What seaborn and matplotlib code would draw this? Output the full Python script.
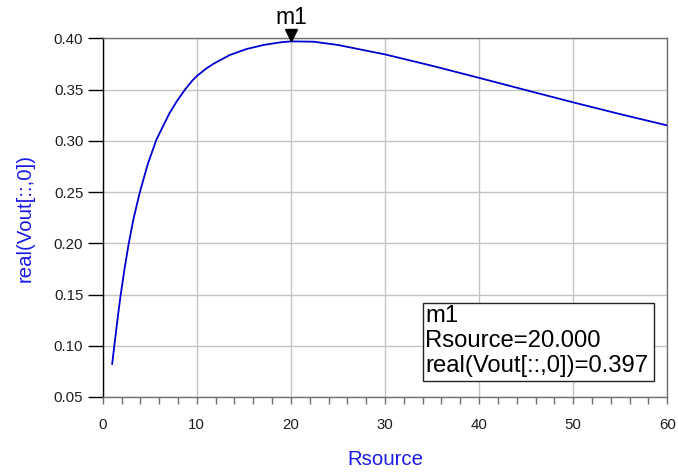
import pandas as pd
import matplotlib
matplotlib.use("Agg")
import matplotlib.pyplot as plt
import matplotlib.transforms as mtransforms
from matplotlib.patches import Rectangle
from matplotlib.ticker import MultipleLocator, FormatStrFormatter
import seaborn as sns

# values
rsource = [1.0, 1.3, 1.6, 1.9, 2.3, 2.75, 3.25, 3.95, 4.78, 5.7, 7.1, 7.9, 8.75,
           9.5, 10.0, 11.0, 11.8, 13.5, 15.3, 17.1, 18.9, 20.0, 22.4, 25.0, 30.0,
           35.0, 40.0, 45.0, 50.0, 55.0, 60.0]
vout_real = [0.082, 0.105, 0.128, 0.149, 0.174, 0.199, 0.223, 0.250, 0.277, 0.301,
             0.327, 0.339, 0.350, 0.3585, 0.3632, 0.3705, 0.3753, 0.3837, 0.3896,
             0.3935, 0.3961, 0.3970, 0.3967, 0.3935, 0.3843, 0.3732, 0.3614,
             0.3494, 0.3375, 0.3260, 0.3150]

marker_name = "m1"
marker_x = 20.0
marker_y = 0.397
marker_lines = ["m1", "Rsource=20.000", "real(Vout[::,0])=0.397"]

df = pd.DataFrame({"Rsource": rsource, "real(Vout[::,0])": vout_real})

sns.set_style("white")
plt.rcParams["font.family"] = ["Liberation Sans", "DejaVu Sans"]

blue = "#1a1ae6"
fig = plt.figure(figsize=(6.78, 4.73), dpi=100)
ax = fig.add_axes([0.1515, 0.1607, 0.8327, 0.7583])

sns.lineplot(data=df, x="Rsource", y="real(Vout[::,0])", ax=ax,
             color="#0000d0", linewidth=1.3, zorder=3)

ax.set_xlim(0, 60)
ax.set_ylim(0.05, 0.40)
ax.xaxis.set_major_locator(MultipleLocator(10))
ax.xaxis.set_minor_locator(MultipleLocator(2))
ax.yaxis.set_major_locator(MultipleLocator(0.05))
ax.yaxis.set_major_formatter(FormatStrFormatter("%.2f"))

ax.grid(True, which="major", color="#c4c4c4", linewidth=1.0)
ax.set_axisbelow(True)

for side in ["top", "right", "bottom"]:
    ax.spines[side].set_color("#707070")
    ax.spines[side].set_linewidth(1.0)
ax.spines["left"].set_color("black")
ax.spines["left"].set_linewidth(1.0)

ax.tick_params(axis="y", which="major", direction="out", length=11, width=1,
               color="black", pad=3, labelsize=10.8, labelcolor="#1e1e1e", left=True)
ax.tick_params(axis="x", which="both", direction="out", length=5, width=1,
               color="#707070", pad=10, labelsize=10.8, labelcolor="#1e1e1e", bottom=True)

ax.set_xlabel("Rsource", color=blue, fontsize=14.7, labelpad=13)
ax.set_ylabel("real(Vout[::,0])", color=blue, fontsize=14.7, labelpad=14)

# marker triangle with tip on the curve, and its name above
tri_trans = mtransforms.offset_copy(ax.transData, fig=fig, x=0, y=6, units="dots")
ax.plot([marker_x], [marker_y], marker="v", color="black", markersize=9,
        transform=tri_trans, clip_on=False, zorder=5)
ax.annotate(marker_name, xy=(marker_x, marker_y), xytext=(0, 17),
            textcoords="offset pixels", ha="center", va="baseline",
            fontsize=16.5, color="black", annotation_clip=False)

# marker readout box
box = Rectangle((0.5668, 0.0446), 0.4098, 0.2183, transform=ax.transAxes,
                facecolor="white", edgecolor="#222222", linewidth=1.0, zorder=4)
ax.add_patch(box)
for line, yy in zip(marker_lines, [0.2099, 0.1402, 0.0705]):
    ax.text(0.5709, yy, line, transform=ax.transAxes, ha="left", va="baseline",
            fontsize=17.2, color="black", zorder=5)

fig.savefig("out.png", dpi=100)
